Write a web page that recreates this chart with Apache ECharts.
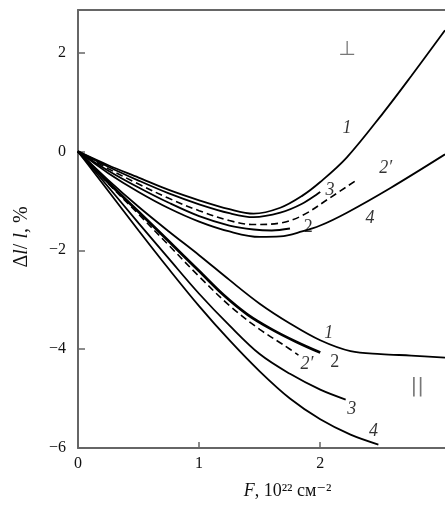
<!DOCTYPE html>
<html><head><meta charset="utf-8">
<script src="https://cdn.jsdelivr.net/npm/echarts@6/dist/echarts.min.js"></script>
<style>html,body{margin:0;padding:0;background:#fff}#c{width:445px;height:519px}</style>
</head><body><div id="c"></div>
<script>
// Perpendicular group (⊥)
const perp1  = [[0,0],[0.25,-0.28],[0.5,-0.53],[0.75,-0.78],[1.0,-0.99],[1.25,-1.17],[1.45,-1.26],[1.67,-1.14],[1.85,-0.9],[2.0,-0.62],[2.22,-0.12],[2.52,0.78],[2.75,1.52],[3.03,2.45]];
const perp3  = [[0,0],[0.25,-0.31],[0.5,-0.59],[0.75,-0.85],[1.0,-1.07],[1.25,-1.25],[1.45,-1.33],[1.67,-1.24],[1.85,-1.06],[2.0,-0.82]];
const perp2p = [[0,0],[0.25,-0.35],[0.5,-0.66],[0.75,-0.95],[1.0,-1.2],[1.25,-1.4],[1.45,-1.48],[1.67,-1.45],[1.85,-1.3],[2.08,-0.94],[2.3,-0.58]];
const perp2  = [[0,0],[0.25,-0.39],[0.5,-0.73],[0.75,-1.04],[1.0,-1.31],[1.25,-1.5],[1.45,-1.58],[1.6,-1.6],[1.75,-1.56]];
const perp4  = [[0,0],[0.25,-0.44],[0.5,-0.82],[0.75,-1.15],[1.0,-1.42],[1.25,-1.62],[1.5,-1.73],[1.67,-1.72],[1.85,-1.62],[2.0,-1.5],[2.22,-1.24],[2.58,-0.74],[3.03,-0.06]];
// Parallel group (||)
const par1  = [[0,0],[0.25,-0.58],[0.5,-1.12],[0.75,-1.62],[1.0,-2.1],[1.25,-2.6],[1.5,-3.08],[1.75,-3.48],[2.0,-3.82],[2.25,-4.04],[2.5,-4.1],[2.75,-4.13],[3.03,-4.17]];
const par2  = [[0,0],[0.25,-0.63],[0.5,-1.22],[0.75,-1.82],[1.0,-2.42],[1.2,-2.9],[1.4,-3.3],[1.6,-3.6],[1.8,-3.85],[2.0,-4.07]];
const par2p = [[0,0],[0.25,-0.65],[0.5,-1.27],[0.75,-1.9],[1.0,-2.53],[1.26,-3.14],[1.5,-3.6],[1.7,-3.92],[1.82,-4.12]];
const par3  = [[0,0],[0.25,-0.72],[0.5,-1.45],[0.75,-2.17],[1.0,-2.88],[1.25,-3.52],[1.5,-4.1],[1.75,-4.5],[2.0,-4.82],[2.21,-5.02]];
const par4  = [[0,0],[0.25,-0.8],[0.5,-1.6],[0.75,-2.38],[1.0,-3.13],[1.25,-3.82],[1.5,-4.45],[1.75,-5.0],[2.0,-5.42],[2.25,-5.73],[2.48,-5.93]];
// Curve labels (data coordinates)
const labelsItalic = [
  [2.22,0.47,'1'],[2.54,-0.34,'2′'],[2.08,-0.78,'3'],[2.41,-1.35,'4'],
  [2.07,-3.67,'1'],[1.89,-4.31,'2′'],[2.26,-5.22,'3'],[2.44,-5.67,'4']
];
const labelsUpright = [[1.90,-1.53,'2'],[2.12,-4.27,'2']];
const groupMarks = [[2.22,2.05,'⊥'],[2.80,-4.76,'||']];
const xTicks = [0,1,2];
const yTicks = [2,0,-2,-4,-6];

const serif = '"Liberation Serif","DejaVu Serif",serif';
function line(data, w, dashed){
  return {type:'line', data, smooth:0.35, symbol:'none', silent:true,
    lineStyle:{color:'#000', width:w, type: dashed ? [7,4] : 'solid'}};
}
function textSeries(data, style){
  return {type:'scatter', symbolSize:0, silent:true,
    data: data.map(d=>({value:[d[0],d[1]], name:d[2]})),
    label:Object.assign({show:true, position:'inside', formatter:p=>p.name, fontFamily:serif, color:'#000'}, style)};
}
const chart = echarts.init(document.getElementById('c'), null, {renderer:'canvas'});
chart.setOption({
  animation:false,
  backgroundColor:'#fff',
  grid:{left:78, right:0, top:10, bottom:71},
  xAxis:[{
    type:'value', min:0, max:3.03, interval:1,
    axisLine:{show:true, onZero:false, lineStyle:{color:'#666', width:2}},
    axisTick:{show:true, inside:true, length:6, customValues:xTicks, lineStyle:{color:'#666', width:1.5}},
    splitLine:{show:false},
    axisLabel:{customValues:xTicks, formatter:v=>String(v), fontFamily:serif, fontSize:16, color:'#111', margin:8},
    name:'{i|F}, 10²² см⁻²', nameLocation:'middle', nameGap:34,
    nameTextStyle:{fontFamily:serif, fontSize:18, color:'#111', padding:[0,0,0,52],
      rich:{i:{fontFamily:serif, fontStyle:'italic', fontSize:18, color:'#111'}}}
  },{
    type:'value', position:'top', min:0, max:3.03,
    axisLine:{show:true, onZero:false, lineStyle:{color:'#666', width:2}},
    axisTick:{show:false}, axisLabel:{show:false}, splitLine:{show:false}
  }],
  yAxis:{
    type:'value', min:-6, max:2.86, interval:2,
    axisLine:{show:true, onZero:false, lineStyle:{color:'#666', width:2}},
    axisTick:{show:true, inside:true, length:7, customValues:yTicks, lineStyle:{color:'#666', width:1.5}},
    splitLine:{show:false},
    axisLabel:{customValues:yTicks, formatter:v=>String(v).replace('-','−'), fontFamily:serif, fontSize:16, color:'#111', margin:12},
    name:'Δ{i|l}/ {i|l}, %', nameLocation:'middle', nameGap:46,
    nameTextStyle:{fontFamily:serif, fontSize:20, color:'#111', padding:[0,16,0,0],
      rich:{i:{fontFamily:serif, fontStyle:'italic', fontSize:20, color:'#111'}}}
  },
  series:[
    line(perp1,1.8), line(perp3,1.8), line(perp2p,1.6,true), line(perp2,1.8), line(perp4,1.8),
    line(par1,1.8), line(par2,2.8), line(par2p,1.6,true), line(par3,1.8), line(par4,1.8),
    textSeries(labelsItalic,{fontStyle:'italic', fontSize:18}),
    textSeries(labelsUpright,{fontSize:18}),
    textSeries(groupMarks,{fontSize:20, color:'#555', fontFamily:'"DejaVu Sans",sans-serif'})
  ]
});
</script></body></html>
